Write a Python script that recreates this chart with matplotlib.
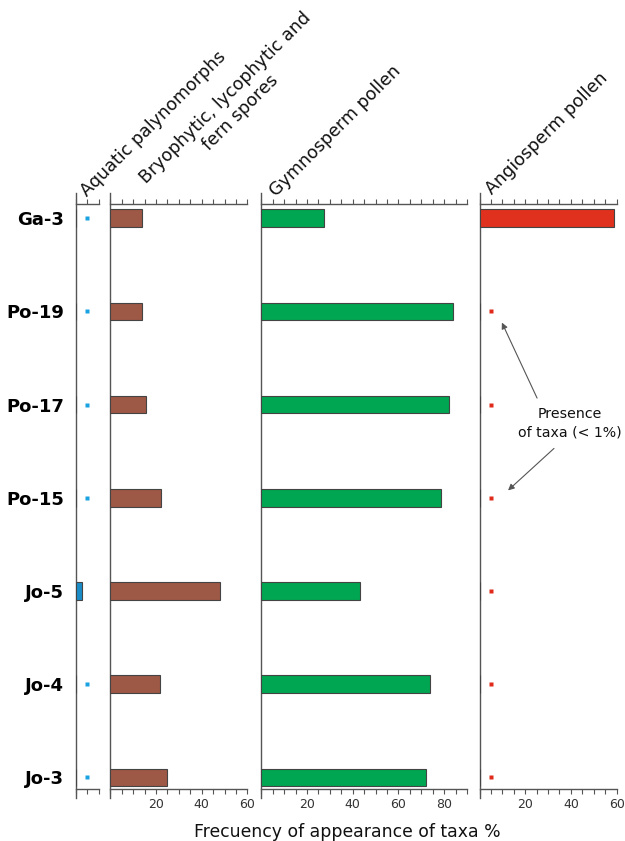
import matplotlib
matplotlib.use("Agg")
import matplotlib.pyplot as plt
import numpy as np

plt.rcParams['font.family'] = ['DejaVu Sans']

# ---- data ----
samples = ["Ga-3", "Po-19", "Po-17", "Po-15", "Jo-5", "Jo-4", "Jo-3"]
aquatic = [0, 0, 0, 0, 2.5, 0, 0]
aquatic_presence = [1, 1, 1, 1, 0, 1, 1]
bryophytic = [14, 14, 15.7, 22, 48, 21.6, 24.8]
gymnosperm = [27.5, 84, 82, 78.7, 43.4, 74, 71.9]
angiosperm = [59, 0, 0, 0, 0, 0, 0]
angio_presence = [0, 1, 1, 1, 1, 1, 1]
presence_x = 5

panel_titles = ["Aquatic palynomorphs", "Bryophytic, lycophytic and\nfern spores",
                "Gymnosperm pollen", "Angiosperm pollen"]
panel_max = [10, 60, 90, 60]
xlabel = "Frecuency of appearance of taxa %"
note = "Presence\nof taxa (< 1%)"

colors = ["#1A8CC8", "#9E5846", "#00A651", "#E0301E"]
dot_colors = ["#1AA3E0", None, None, "#E02A1A"]

W, H = 625, 841
fig = plt.figure(figsize=(W / 100, H / 100), dpi=100)

# pixel layout
px_per_unit = 2.285
lefts = [75.8, 110.3, 261.3, 479.5]
top_px, bot_px = 193, 798
ypos = np.arange(len(samples))
ylim = (6.22, -0.27)
top_line, bot_line = -0.15, 6.12

series = [aquatic, bryophytic, gymnosperm, angiosperm]
axes = []
for k in range(4):
    wpx = panel_max[k] * px_per_unit
    ax = fig.add_axes([lefts[k] / W, 1 - bot_px / H, wpx / W, (bot_px - top_px) / H])
    axes.append(ax)
    ax.set_xlim(0, panel_max[k])
    ax.set_ylim(*ylim)
    vals = series[k]
    ax.barh(ypos, vals, height=0.19, color=colors[k], edgecolor="#444444", linewidth=0.8, zorder=3)
    if k == 0:
        pres = aquatic_presence
    elif k == 3:
        pres = angio_presence
    else:
        pres = None
    if pres is not None:
        yy = [y for y, p in zip(ypos, pres) if p]
        ax.plot([presence_x] * len(yy), yy, ls="none", marker="s", ms=2.6,
                color=dot_colors[k], mec="none", zorder=4)
    ax.spines["right"].set_visible(False)
    for s in ["left", "top", "bottom"]:
        ax.spines[s].set_color("#555555")
        ax.spines[s].set_linewidth(1.0)
    ax.spines["top"].set_position(("data", top_line))
    ax.spines["bottom"].set_position(("data", bot_line))
    ticks = np.arange(0, panel_max[k] + 0.1, 5)
    ax.set_xticks(ticks)
    if k == 0:
        ax.set_xticklabels([""] * len(ticks))
    else:
        ax.set_xticklabels([str(int(t)) if (t % 20 == 0 and t > 0) else "" for t in ticks])
    ax.tick_params(axis="x", top=True, bottom=True, direction="out", length=3.5,
                   width=0.8, color="#555555", labelsize=9, labelcolor="#333333", pad=3.5)
    if k == 0:
        ax.set_yticks(ypos)
        ax.set_yticklabels(samples, fontsize=13, fontweight="bold")
        ax.tick_params(axis="y", length=0, pad=8.6)
    else:
        ax.set_yticks([])
    ax.patch.set_alpha(0)

# titles, rotated 45°
title_anchor_px = [(87, 197), (159, 197), (276, 197), (492, 195)]
for k, t in enumerate(panel_titles):
    x, y = title_anchor_px[k]
    fig.text(x / W, 1 - y / H, t, rotation=45, rotation_mode="anchor",
             ha="left", va="baseline", fontsize=12.6, color="#111111",
             multialignment="center")

fig.text(347.5 / W, 1 - 837 / H, xlabel, ha="center", va="baseline", fontsize=12.4, color="#111111")

# annotation on angiosperm panel
axA = axes[3]
axA.text(39.6, 2.2, note, ha="center", va="center", fontsize=10.2, color="#111111",
         zorder=5, linespacing=1.35)
axA.annotate("", xy=(9.8, 1.12), xytext=(25.2, 1.93),
             arrowprops=dict(arrowstyle="-|>", color="#555555", lw=0.8,
                             mutation_scale=9, shrinkA=0, shrinkB=0))
axA.annotate("", xy=(12.5, 2.92), xytext=(32.6, 2.47),
             arrowprops=dict(arrowstyle="-|>", color="#555555", lw=0.8,
                             mutation_scale=9, shrinkA=0, shrinkB=0))

fig.savefig("out.png", dpi=100)
